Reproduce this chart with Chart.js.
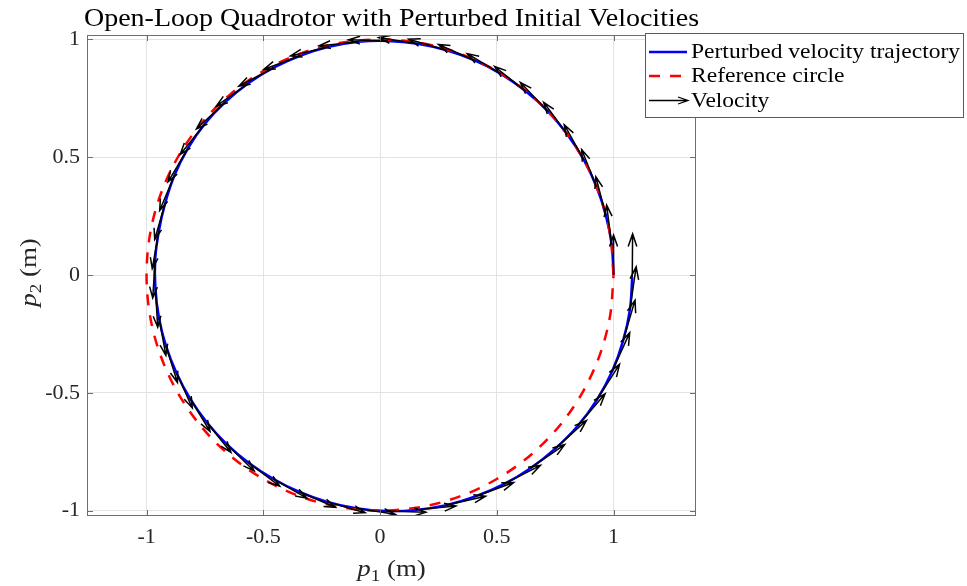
<!DOCTYPE html>
<html>
<head>
<meta charset="utf-8">
<script src="https://cdn.jsdelivr.net/npm/chart.js@4.4.1/dist/chart.umd.min.js"></script>
<style>
  html, body { margin: 0; padding: 0; background: #fff; }
  #wrap { width: 967px; height: 586px; }
</style>
</head>
<body>
<div id="wrap"><canvas id="quad" width="967" height="586"></canvas></div>
<script>
// perturbed trajectory samples (m)
const trajX = [1.000, 0.992, 0.967, 0.927, 0.872, 0.802, 0.719, 0.624, 0.519, 0.405,
  0.285, 0.161, 0.034, -0.093, -0.219, -0.340, -0.456, -0.564, -0.663, -0.750,
  -0.822, -0.879, -0.919, -0.947, -0.963, -0.962, -0.947, -0.917, -0.872, -0.814,
  -0.742, -0.658, -0.563, -0.458, -0.345, -0.226, -0.102, 0.026, 0.154, 0.283,
  0.408, 0.530, 0.644, 0.750, 0.846, 0.927, 0.993, 1.040, 1.070, 1.080];
const trajY = [0.000, 0.128, 0.253, 0.375, 0.490, 0.597, 0.695, 0.780, 0.853, 0.911,
  0.954, 0.982, 0.994, 0.990, 0.969, 0.932, 0.880, 0.814, 0.734, 0.642,
  0.539, 0.427, 0.309, 0.188, 0.066, -0.058, -0.180, -0.300, -0.415, -0.524,
  -0.625, -0.717, -0.797, -0.865, -0.921, -0.963, -0.990, -1.002, -0.997, -0.977,
  -0.940, -0.888, -0.820, -0.737, -0.641, -0.532, -0.411, -0.282, -0.147, -0.009];

// velocity at each sample (m/s)
const velX = [0.000, -0.128, -0.253, -0.375, -0.490, -0.597, -0.695, -0.785, -0.857, -0.914,
  -0.956, -0.983, -0.994, -0.989, -0.967, -0.929, -0.876, -0.808, -0.726, -0.623,
  -0.506, -0.382, -0.271, -0.168, -0.061, 0.058, 0.175, 0.290, 0.401, 0.507,
  0.610, 0.700, 0.783, 0.851, 0.907, 0.953, 0.985, 1.003, 1.006, 0.994,
  0.966, 0.924, 0.863, 0.787, 0.693, 0.580, 0.448, 0.306, 0.157, 0.009];
const velY = [1.000, 0.992, 0.967, 0.927, 0.872, 0.802, 0.719, 0.618, 0.512, 0.398,
  0.277, 0.153, 0.026, -0.101, -0.227, -0.348, -0.463, -0.572, -0.672, -0.766,
  -0.844, -0.901, -0.932, -0.951, -0.963, -0.962, -0.948, -0.920, -0.878, -0.825,
  -0.755, -0.676, -0.583, -0.485, -0.382, -0.270, -0.152, -0.029, 0.095, 0.225,
  0.348, 0.470, 0.589, 0.701, 0.807, 0.900, 0.978, 1.033, 1.069, 1.080];

// unit reference circle, every 10 degrees
const refX = [1, 0.985, 0.940, 0.866, 0.766, 0.643, 0.5, 0.342, 0.174, 0,
  -0.174, -0.342, -0.5, -0.643, -0.766, -0.866, -0.940, -0.985, -1,
  -0.985, -0.940, -0.866, -0.766, -0.643, -0.5, -0.342, -0.174, 0,
  0.174, 0.342, 0.5, 0.643, 0.766, 0.866, 0.940, 0.985, 1];
const refY = [0, 0.174, 0.342, 0.5, 0.643, 0.766, 0.866, 0.940, 0.985, 1,
  0.985, 0.940, 0.866, 0.766, 0.643, 0.5, 0.342, 0.174, 0,
  -0.174, -0.342, -0.5, -0.643, -0.766, -0.866, -0.940, -0.985, -1,
  -0.985, -0.940, -0.866, -0.766, -0.643, -0.5, -0.342, -0.174, 0];

const xTicks = [-1, -0.5, 0, 0.5, 1];
const yTicks = [-1, -0.5, 0, 0.5, 1];

const legendLabels = ["Perturbed velocity trajectory", "Reference circle", "Velocity"];
const titleText = "Open-Loop Quadrotor with Perturbed Initial Velocities";

const quiverScale = 0.17;
const SERIF = "'Liberation Serif', 'Times New Roman', serif";
const SX = 1.12; // widen Times toward Computer Modern proportions

function drawArrow(ctx, x0, y0, x1, y1) {
  const dx = x1 - x0, dy = y1 - y0;
  const len = Math.hypot(dx, dy);
  if (len < 1e-6) return;
  const ux = dx / len, uy = dy / len;
  const hb = len * 0.29, hs = len * 0.1;
  ctx.beginPath();
  ctx.moveTo(x0, y0);
  ctx.lineTo(x1, y1);
  ctx.moveTo(x1 - ux * hb - uy * hs, y1 - uy * hb + ux * hs);
  ctx.lineTo(x1, y1);
  ctx.lineTo(x1 - ux * hb + uy * hs, y1 - uy * hb - ux * hs);
  ctx.stroke();
}

function wideText(ctx, str, x, y, align) {
  ctx.save();
  ctx.translate(x, y);
  ctx.scale(SX, 1);
  ctx.textAlign = align;
  ctx.fillText(str, 0, 0);
  ctx.restore();
}

// "p_k (m)" label: italic p, small subscript, upright unit
function axisLabel(ctx, sub) {
  const parts = [
    { t: "p", f: "italic 24px " + SERIF, dy: 0 },
    { t: sub, f: "17px " + SERIF, dy: 5 },
    { t: " (m)", f: "24px " + SERIF, dy: 0 }
  ];
  let w = 0;
  parts.forEach(p => { ctx.font = p.f; p.w = ctx.measureText(p.t).width * SX; w += p.w; });
  let cx = -w / 2;
  ctx.textAlign = "left";
  parts.forEach(p => {
    ctx.font = p.f;
    ctx.save();
    ctx.translate(cx, p.dy);
    ctx.scale(SX, 1);
    ctx.fillText(p.t, 0, 0);
    ctx.restore();
    cx += p.w;
  });
}

const decor = {
  id: "decor",
  afterDatasetsDraw(chart) {
    const { ctx, chartArea: a, scales: { x, y } } = chart;
    ctx.save();
    ctx.beginPath();
    ctx.rect(a.left, a.top, a.right - a.left, a.bottom - a.top);
    ctx.clip();
    ctx.strokeStyle = "#000";
    ctx.lineWidth = 1.5;
    ctx.lineJoin = "miter";
    for (let i = 0; i < trajX.length; i++) {
      drawArrow(ctx,
        x.getPixelForValue(trajX[i]), y.getPixelForValue(trajY[i]),
        x.getPixelForValue(trajX[i] + quiverScale * velX[i]),
        y.getPixelForValue(trajY[i] + quiverScale * velY[i]));
    }
    ctx.restore();
  },
  afterDraw(chart) {
    const { ctx, chartArea: a, scales: { x, y } } = chart;
    ctx.save();
    // axes box + inward ticks
    ctx.strokeStyle = "#6e6e6e";
    ctx.lineWidth = 1;
    ctx.strokeRect(a.left + 0.5, a.top + 0.5, a.right - a.left - 1, a.bottom - a.top - 1);
    ctx.beginPath();
    xTicks.forEach(v => {
      const px = Math.round(x.getPixelForValue(v)) + 0.5;
      ctx.moveTo(px, a.bottom); ctx.lineTo(px, a.bottom - 6);
      ctx.moveTo(px, a.top); ctx.lineTo(px, a.top + 6);
    });
    yTicks.forEach(v => {
      const py = Math.round(y.getPixelForValue(v)) + 0.5;
      ctx.moveTo(a.left, py); ctx.lineTo(a.left + 6, py);
      ctx.moveTo(a.right, py); ctx.lineTo(a.right - 6, py);
    });
    ctx.stroke();

    // title
    ctx.fillStyle = "#000";
    ctx.textBaseline = "alphabetic";
    ctx.font = "25px " + SERIF;
    wideText(ctx, titleText, (a.left + a.right) / 2, 26, "center");

    // axis labels
    ctx.fillStyle = "#262626";
    ctx.save();
    ctx.translate((a.left + a.right) / 2, 576);
    axisLabel(ctx, "1");
    ctx.restore();
    ctx.save();
    ctx.translate(36, (a.top + a.bottom) / 2 - 3);
    ctx.rotate(-Math.PI / 2);
    axisLabel(ctx, "2");
    ctx.restore();

    // legend
    const bx = 645.5, by = 33.5, bw = 318, bh = 84;
    ctx.fillStyle = "#fff";
    ctx.fillRect(bx, by, bw, bh);
    ctx.strokeStyle = "#5a5a5a";
    ctx.lineWidth = 1;
    ctx.strokeRect(bx, by, bw, bh);
    const rows = [52, 76, 100.5];
    ctx.lineWidth = 2.5;
    ctx.strokeStyle = "#0000ff";
    ctx.beginPath(); ctx.moveTo(649, rows[0]); ctx.lineTo(687, rows[0]); ctx.stroke();
    ctx.strokeStyle = "#ff0000";
    ctx.setLineDash([11, 10]);
    ctx.beginPath(); ctx.moveTo(649, rows[1]); ctx.lineTo(687, rows[1]); ctx.stroke();
    ctx.setLineDash([]);
    ctx.strokeStyle = "#000";
    ctx.lineWidth = 1.3;
    ctx.beginPath(); ctx.moveTo(649, rows[2]); ctx.lineTo(688, rows[2]);
    ctx.moveTo(678, rows[2] - 3.5); ctx.lineTo(688, rows[2]); ctx.lineTo(678, rows[2] + 3.5);
    ctx.stroke();
    ctx.fillStyle = "#000";
    ctx.font = "21px " + SERIF;
    legendLabels.forEach((t, i) => wideText(ctx, t, 691, rows[i] + 6, "left"));
    ctx.restore();
  }
};

Chart.defaults.font.family = SERIF;

new Chart(document.getElementById("quad"), {
  type: "scatter",
  data: {
    datasets: [
      {
        label: legendLabels[0],
        data: trajX.map((v, i) => ({ x: v, y: trajY[i] })),
        showLine: true,
        borderColor: "#0000ff",
        borderWidth: 2.5,
        pointRadius: 0,
        tension: 0.33,
        order: 2
      },
      {
        label: legendLabels[1],
        data: refX.map((v, i) => ({ x: v, y: refY[i] })),
        showLine: true,
        borderColor: "#ff0000",
        borderWidth: 2.5,
        borderDash: [11, 10],
        pointRadius: 0,
        tension: 0.33,
        order: 1
      }
    ]
  },
  options: {
    responsive: false,
    animation: false,
    devicePixelRatio: 1,
    layout: { padding: { left: 0, right: 271, top: 35, bottom: 0 } },
    plugins: {
      legend: { display: false },
      title: { display: false },
      tooltip: { enabled: false }
    },
    scales: {
      x: {
        type: "linear",
        min: -1.255,
        max: 1.353,
        afterBuildTicks: s => { s.ticks = xTicks.map(v => ({ value: v })); },
        afterFit: s => { s.height = 70; },
        ticks: {
          autoSkip: false,
          maxRotation: 0,
          padding: 8,
          color: "#262626",
          font: { size: 22 },
          callback: v => String(v)
        },
        grid: { color: "#e3e3e3", drawTicks: false },
        border: { display: false }
      },
      y: {
        type: "linear",
        min: -1.023,
        max: 1.019,
        afterBuildTicks: s => { s.ticks = yTicks.map(v => ({ value: v })); },
        afterFit: s => { s.width = 87; },
        ticks: {
          autoSkip: false,
          padding: 7,
          color: "#262626",
          font: { size: 22 },
          callback: v => String(v)
        },
        grid: { color: "#e3e3e3", drawTicks: false },
        border: { display: false }
      }
    }
  },
  plugins: [decor]
});
</script>
</body>
</html>
